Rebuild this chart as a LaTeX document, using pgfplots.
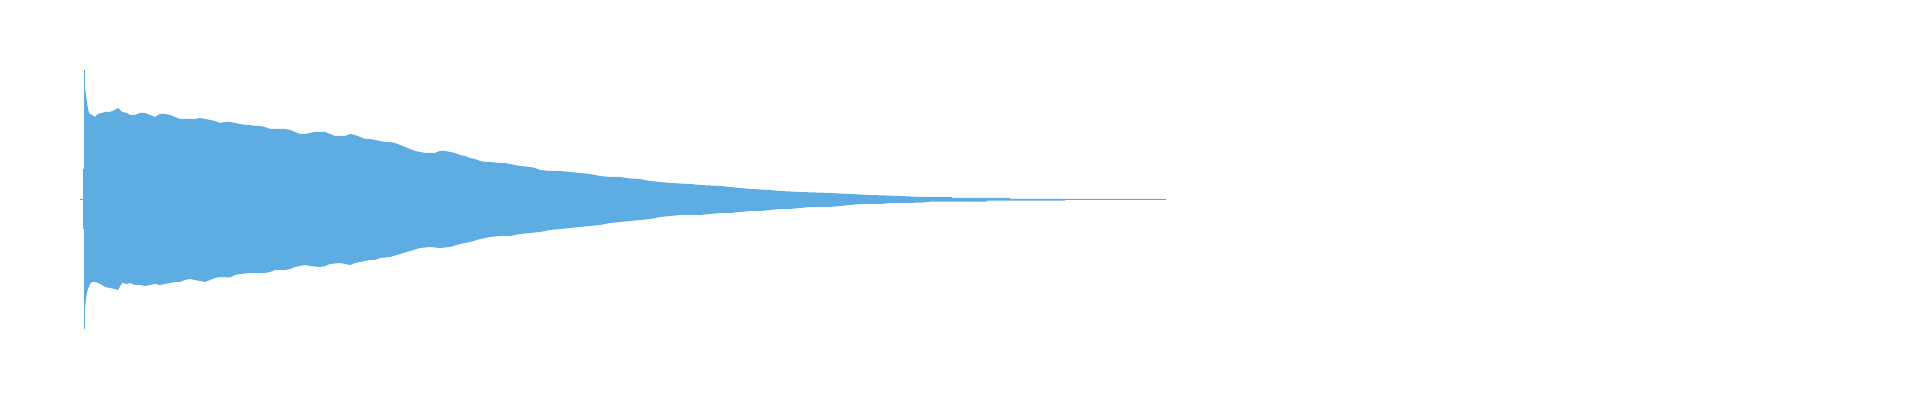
\documentclass[border=0pt]{standalone}
\usepackage{pgfplots}
\pgfplotsset{compat=1.18}
\definecolor{wave}{RGB}{93,172,226}
\begin{document}
\begin{tikzpicture}
\begin{axis}[
  width=19.2cm, height=4cm, scale only axis,
  hide axis,
  xmin=-0.4, xmax=9.2,
  ymin=-2.005, ymax=1.995,
]
% waveform envelope (time in s, amplitude): upper edge left to right, then lower edge right to left
\addplot[fill=wave, draw=none] coordinates {
(0,0.005)(0.015,0.005)(0.015,0.305)(0.02,0.305)(0.02,1.295)(0.024,1.295)
(0.025,1.115)(0.03,1.045)(0.035,0.975)(0.04,0.905)(0.045,0.865)(0.05,0.855)
(0.06,0.845)(0.075,0.825)(0.09,0.855)(0.11,0.865)(0.125,0.875)(0.15,0.875)
(0.175,0.895)(0.19,0.915)(0.21,0.875)(0.235,0.865)(0.25,0.845)(0.275,0.845)
(0.30,0.865)(0.325,0.865)(0.35,0.845)(0.375,0.825)(0.40,0.855)(0.425,0.855)
(0.45,0.845)(0.475,0.825)(0.50,0.805)(0.525,0.805)(0.55,0.805)(0.575,0.805)
(0.60,0.815)(0.625,0.805)(0.65,0.795)(0.675,0.785)(0.70,0.765)(0.725,0.775)
(0.75,0.775)(0.775,0.765)(0.80,0.755)(0.825,0.745)(0.85,0.745)(0.875,0.735)
(0.90,0.735)(0.925,0.725)(0.95,0.705)(1.025,0.705)(1.05,0.695)(1.075,0.675)
(1.10,0.655)(1.125,0.655)(1.15,0.665)(1.175,0.675)(1.225,0.675)(1.25,0.655)
(1.275,0.635)(1.325,0.635)(1.35,0.655)(1.375,0.645)(1.40,0.625)(1.425,0.605)
(1.45,0.605)(1.475,0.595)(1.50,0.585)(1.525,0.575)(1.55,0.575)(1.575,0.565)
(1.60,0.545)(1.625,0.525)(1.65,0.505)(1.675,0.485)(1.70,0.475)(1.725,0.465)
(1.775,0.465)(1.80,0.485)(1.825,0.485)(1.85,0.475)(1.875,0.465)(1.90,0.445)
(1.925,0.435)(1.95,0.415)(1.975,0.405)(2.00,0.385)(2.025,0.375)(2.05,0.375)
(2.10,0.365)(2.125,0.365)(2.15,0.355)(2.175,0.345)(2.20,0.335)(2.25,0.325)
(2.275,0.315)(2.30,0.295)(2.35,0.285)(2.40,0.285)(2.45,0.275)(2.50,0.265)
(2.55,0.255)(2.60,0.235)(2.65,0.225)(2.70,0.225)(2.75,0.21)(2.80,0.205)
(2.85,0.185)(2.90,0.175)(2.95,0.165)(3.05,0.155)(3.10,0.145)(3.20,0.135)
(3.25,0.125)(3.30,0.115)(3.35,0.105)(3.45,0.095)(3.50,0.085)(3.60,0.075)
(3.75,0.065)(3.85,0.055)(3.95,0.045)(4.10,0.035)(4.20,0.025)(4.36,0.025)
(4.36,0.015)(4.65,0.015)(4.65,0.005)(5.43,0.005)
(5.43,-0.005)(4.925,-0.005)(4.925,-0.012)(4.535,-0.012)(4.535,-0.022)(4.25,-0.022)
(4.20,-0.032)(4.05,-0.035)(4.00,-0.045)(3.90,-0.045)(3.85,-0.055)(3.80,-0.065)
(3.75,-0.075)(3.65,-0.075)(3.60,-0.085)(3.55,-0.095)(3.50,-0.095)(3.45,-0.105)
(3.40,-0.115)(3.35,-0.115)(3.30,-0.125)(3.25,-0.135)(3.20,-0.135)(3.15,-0.145)
(3.10,-0.155)(3.00,-0.155)(2.95,-0.165)(2.90,-0.175)(2.85,-0.195)(2.80,-0.205)
(2.75,-0.215)(2.70,-0.225)(2.65,-0.235)(2.60,-0.255)(2.55,-0.265)(2.50,-0.275)
(2.45,-0.285)(2.40,-0.295)(2.35,-0.305)(2.30,-0.325)(2.25,-0.335)(2.20,-0.345)
(2.15,-0.365)(2.10,-0.365)(2.05,-0.375)(2.00,-0.395)(1.95,-0.425)(1.90,-0.445)
(1.85,-0.475)(1.80,-0.485)(1.75,-0.475)(1.70,-0.485)(1.65,-0.515)(1.60,-0.545)
(1.55,-0.575)(1.50,-0.585)(1.475,-0.605)(1.45,-0.605)(1.40,-0.625)(1.375,-0.635)
(1.35,-0.655)(1.325,-0.645)(1.30,-0.635)(1.25,-0.645)(1.225,-0.665)(1.20,-0.675)
(1.15,-0.665)(1.125,-0.655)(1.10,-0.665)(1.075,-0.675)(1.05,-0.695)(1.025,-0.705)
(0.975,-0.705)(0.95,-0.725)(0.925,-0.735)(0.85,-0.735)(0.80,-0.745)(0.775,-0.755)
(0.75,-0.78)(0.70,-0.775)(0.675,-0.785)(0.65,-0.805)(0.625,-0.825)(0.60,-0.815)
(0.575,-0.805)(0.55,-0.795)(0.525,-0.805)(0.50,-0.825)(0.475,-0.825)(0.45,-0.835)
(0.425,-0.845)(0.40,-0.855)(0.375,-0.845)(0.35,-0.855)(0.325,-0.865)(0.30,-0.855)
(0.275,-0.855)(0.25,-0.835)(0.235,-0.845)(0.21,-0.835)(0.19,-0.905)(0.175,-0.895)
(0.15,-0.885)(0.125,-0.875)(0.11,-0.855)(0.09,-0.835)(0.075,-0.825)(0.06,-0.825)
(0.05,-0.845)(0.045,-0.875)(0.04,-0.895)(0.035,-0.935)(0.03,-0.985)(0.025,-1.105)
(0.024,-1.295)(0.02,-1.295)(0.02,-0.295)(0.015,-0.295)(0.015,-0.005)(0,-0.005)
};
\end{axis}
\path (current axis.south west) rectangle (current axis.north east);
\end{tikzpicture}
\end{document}
